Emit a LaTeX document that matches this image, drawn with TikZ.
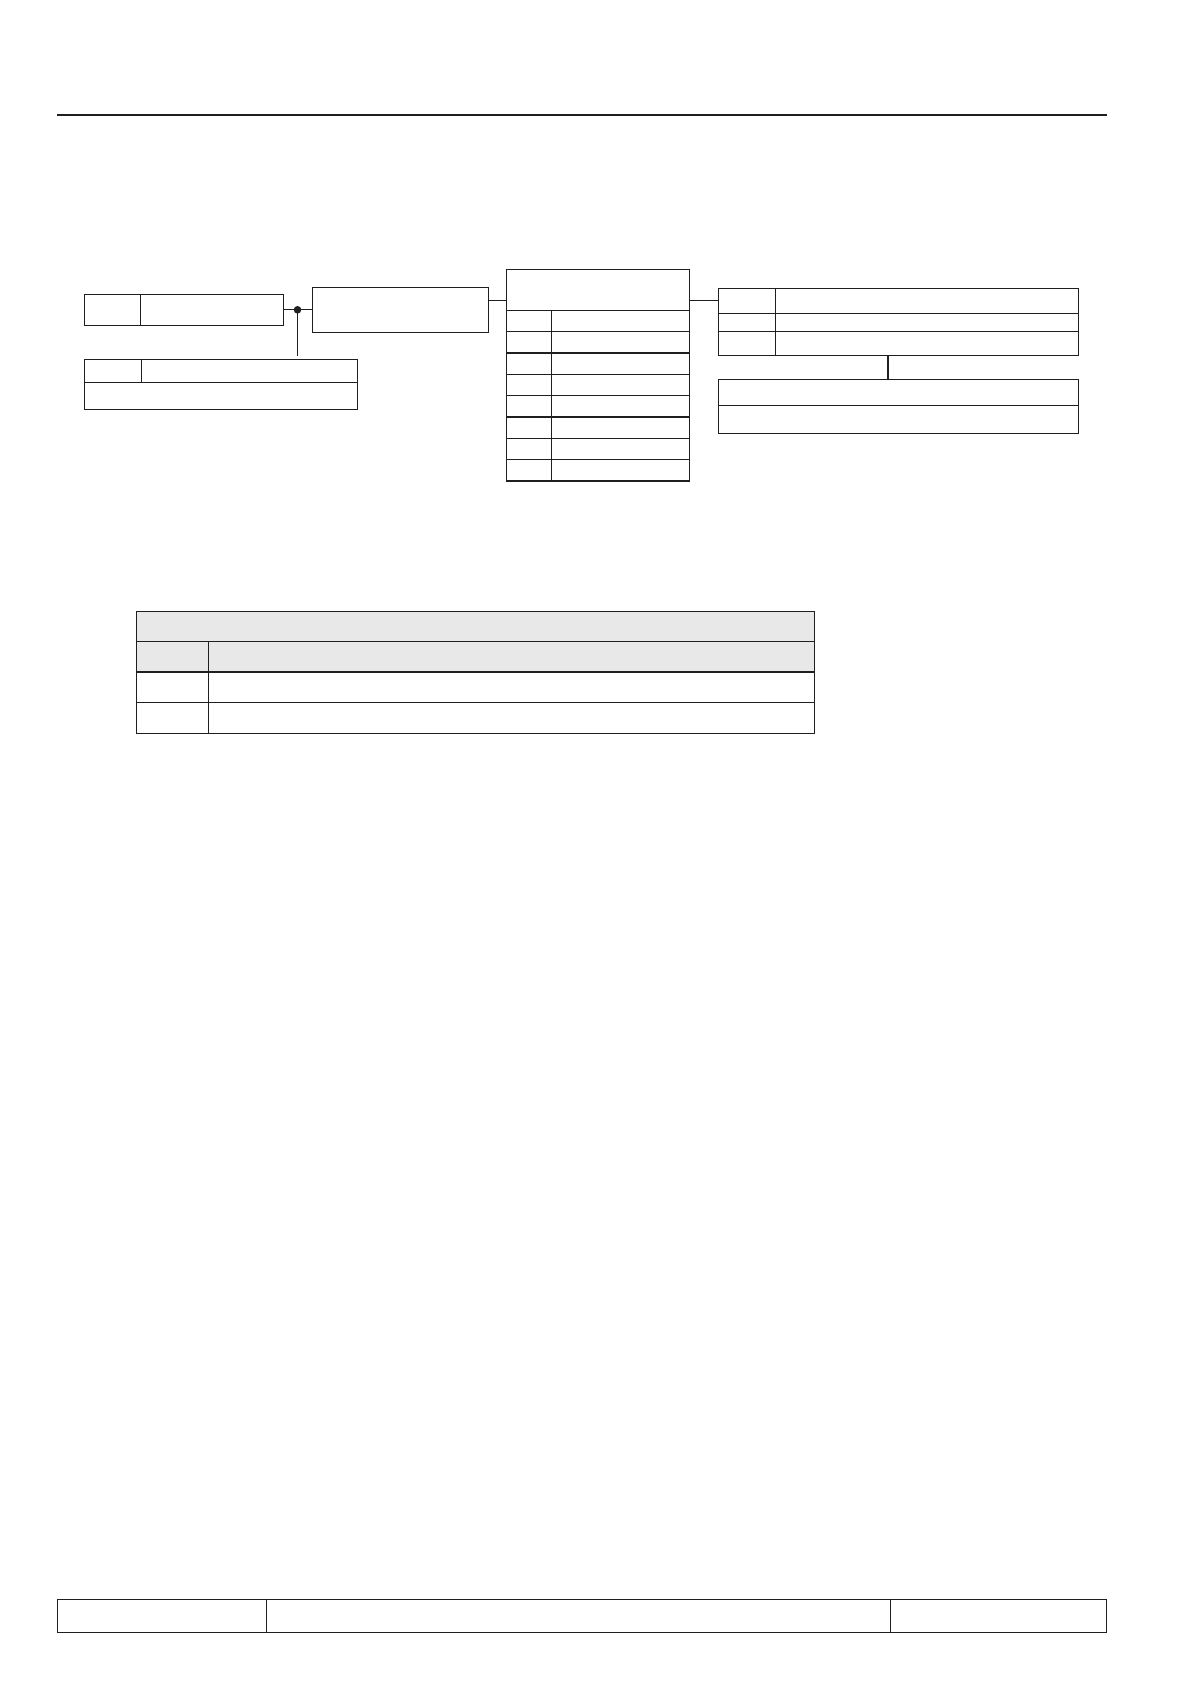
\documentclass[tikz,border=0pt]{standalone}
\usetikzlibrary{fit}
\tikzset{
  cellbox/.style={draw=black!88, line width=0.6pt, inner sep=0pt, outer sep=0pt, rectangle},
  greycell/.style={cellbox, fill=black!9},
  link/.style={draw=black!88, line width=0.55pt},
  thicklink/.style={draw=black!88, line width=1.1pt},
  rule/.style={draw=black!88, line width=1.3pt}
}
\newcommand\cellnode[6][]{\node[cellbox,#1,fit={(#3,#4) (#5,#6)}] (#2) {};}
\begin{document}
\begin{tikzpicture}[x=0.5pt,y=-0.5pt]
\useasboundingbox (0,0) rectangle (1191,1684);
% top rule
\coordinate (ruleL) at (57,115);
\coordinate (ruleR) at (1107,115);
\draw[rule] (ruleL) -- (ruleR);
% box A
\cellnode{A1}{84.3}{294.3}{140.3}{325.3}
\cellnode{A2}{140.3}{294.3}{283.3}{325.3}
% box B
\cellnode{B1}{84.3}{359.3}{141.3}{382.3}
\cellnode{B2}{141.3}{359.3}{357.3}{382.3}
\cellnode{B3}{84.3}{382.3}{357.3}{409.3}
% box C
\cellnode{C}{312.3}{287.3}{488.3}{332.3}
% table D
\cellnode{Dh}{506.3}{269.3}{689.3}{310.3}
\foreach \i in {0,...,7}{
  \pgfmathsetmacro{\ya}{310.3+21.34*\i}
  \pgfmathsetmacro{\yb}{310.3+21.34*(\i+1)}
  \cellnode{Da\i}{506.3}{\ya}{551.3}{\yb}
  \cellnode{Db\i}{551.3}{\ya}{689.3}{\yb}
}
% box E
\cellnode{E1a}{718.3}{288.3}{775.7}{313.3}
\cellnode{E1b}{775.7}{288.3}{1078.7}{313.3}
\cellnode{E2a}{718.3}{313.3}{775.7}{331.3}
\cellnode{E2b}{775.7}{313.3}{1078.7}{331.3}
\cellnode{E3a}{718.3}{331.3}{775.7}{355.3}
\cellnode{E3b}{775.7}{331.3}{1078.7}{355.3}
\node[fit=(E1a) (E3b), inner sep=0pt] (E) {};
% box F
\cellnode{F1}{718.3}{379.3}{1078.7}{405.3}
\cellnode{F2}{718.3}{405.3}{1078.7}{433.3}
% connectors
\coordinate (jA) at (297.5,309.8);
\coordinate (jB) at (297.5,356);
\draw[link] (A2.east) -- (C.west);
\fill[black!88] (jA) circle (3.8);
\draw[link] (jA) -- (jB);
\coordinate (cd) at (0,300.3);
\draw[link] (C.east |- cd) -- (Dh.west |- cd);
\draw[link] (Dh.east |- E1a.west) -- (E1a.west);
\coordinate (ef) at (888.3,0);
\draw[thicklink] (E.south -| ef) -- (F1.north -| ef);
% bottom table
\cellnode[greycell]{T1}{136.3}{611.3}{814.3}{641.3}
\cellnode[greycell]{T2a}{136.3}{641.3}{208.3}{672}
\cellnode[greycell]{T2b}{208.3}{641.3}{814.3}{672}
\cellnode{T3a}{136.3}{672}{208.3}{702.3}
\cellnode{T3b}{208.3}{672}{814.3}{702.3}
\cellnode{T4a}{136.3}{702.3}{208.3}{733.3}
\cellnode{T4b}{208.3}{702.3}{814.3}{733.3}
% footer
\cellnode{Fa}{57.3}{1599.3}{266.7}{1632.3}
\cellnode{Fb}{266.7}{1599.3}{890.3}{1632.3}
\cellnode{Fc}{890.3}{1599.3}{1106.3}{1632.3}
\end{tikzpicture}
\end{document}
